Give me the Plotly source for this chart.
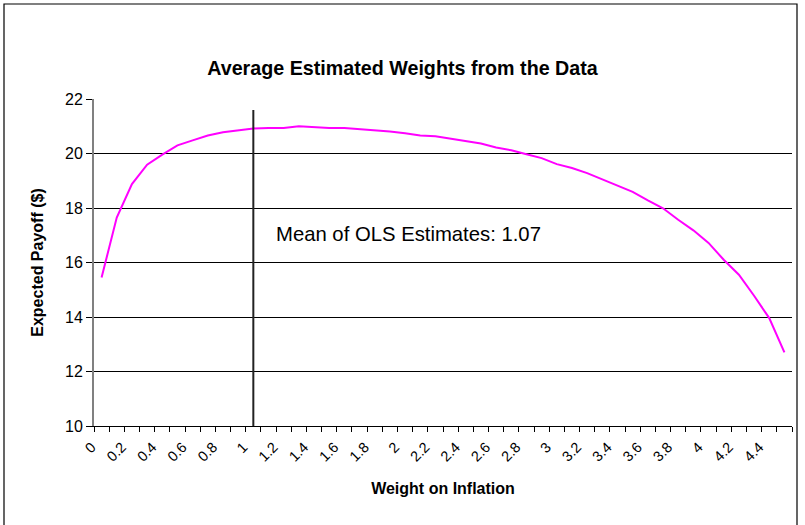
import plotly.graph_objects as go

# Data
weights = [round(i * 0.1, 1) for i in range(46)]  # categories 0.0 .. 4.5
payoff = [15.45, 17.65, 18.88, 19.59, 19.96, 20.30, 20.48, 20.66, 20.78, 20.86,
          20.92, 20.94, 20.94, 21.00, 20.96, 20.94, 20.94, 20.90, 20.86, 20.81,
          20.74, 20.66, 20.63, 20.54, 20.47, 20.37, 20.22, 20.12, 19.97, 19.83,
          19.61, 19.47, 19.28, 19.04, 18.82, 18.59, 18.28, 17.99, 17.57, 17.18,
          16.72, 16.10, 15.55, 14.78, 13.96, 12.70]
tick_vals = weights[::2]
tick_labels = [f"{v:g}" for v in tick_vals]
boundaries = [round(-0.05 + 0.1 * k, 2) for k in range(47)]
ols_mean_label = 1.07
ols_line_x = 1.0   # position where the marker line is drawn in the picture
ols_line_y = [10, 21.6]
y_ticks = [10, 12, 14, 16, 18, 20, 22]

FONT = "Liberation Sans, Arial, sans-serif"

fig = go.Figure()
fig.add_trace(go.Scatter(x=weights, y=payoff, mode="lines",
                         line=dict(color="#FF00FF", width=2), showlegend=False,
                         hoverinfo="x+y"))
fig.add_trace(go.Scatter(x=[ols_line_x, ols_line_x], y=ols_line_y, mode="lines",
                         line=dict(color="#222222", width=2), showlegend=False,
                         hoverinfo="skip"))

fig.update_layout(
    width=805, height=525,
    margin=dict(l=94, r=13, t=99, b=99, autoexpand=False),
    paper_bgcolor="white", plot_bgcolor="white",
    font=dict(family=FONT, color="black", size=16),
    title=dict(text="<b>Average Estimated Weights from the Data</b>",
               x=0.5, xref="container", xanchor="center",
               y=1 - 68 / 525, yref="container", yanchor="middle",
               font=dict(size=19.7, family=FONT, color="black")),
    annotations=[dict(text=f"Mean of OLS Estimates: {ols_mean_label}",
                      x=(274 - 94) / 698, y=17.05, xref="paper", yref="y",
                      xanchor="left", yanchor="middle", showarrow=False,
                      font=dict(size=20.3, family=FONT, color="black"))],
    shapes=[dict(type="rect", xref="paper", yref="paper",
                 x0=(4 - 94) / 698, x1=(797 - 94) / 698,
                 y0=-0.4, y1=1 + (99 - 4) / 327,
                 line=dict(color="black", width=1.2), fillcolor="rgba(0,0,0,0)",
                 layer="below")],
)

fig.update_xaxes(
    range=[-0.05, 4.55], tickmode="array", tickvals=tick_vals, ticktext=tick_labels,
    tickangle=-45, ticks="", showgrid=False, zeroline=False, automargin=False,
    showline=True, linecolor="black", linewidth=1,
    ticklabelstandoff=6, ticklabelshift=-10,
    tickfont=dict(size=14.5, family=FONT, color="black"),
    title=dict(text="<b>Weight on Inflation</b>", standoff=19,
               font=dict(size=16, family=FONT, color="black")),
    minor=dict(tickmode="array", tickvals=boundaries, ticks="outside",
               ticklen=5, tickcolor="black", tickwidth=1, showgrid=False),
)
fig.update_yaxes(
    range=[10, 22], tickmode="array", tickvals=y_ticks,
    ticks="outside", ticklen=6, tickcolor="black", automargin=False,
    showgrid=True, gridcolor="black", gridwidth=1, zeroline=False,
    showline=True, linecolor="#808080", linewidth=2,
    tickfont=dict(size=16, family=FONT, color="black"),
    title=dict(text="<b>Expected Payoff ($)</b>", standoff=17,
               font=dict(size=16, family=FONT, color="black")),
)

fig.write_html("out.html", config={"displayModeBar": False},
               post_script="document.body.style.margin='0';document.body.style.padding='0';")
